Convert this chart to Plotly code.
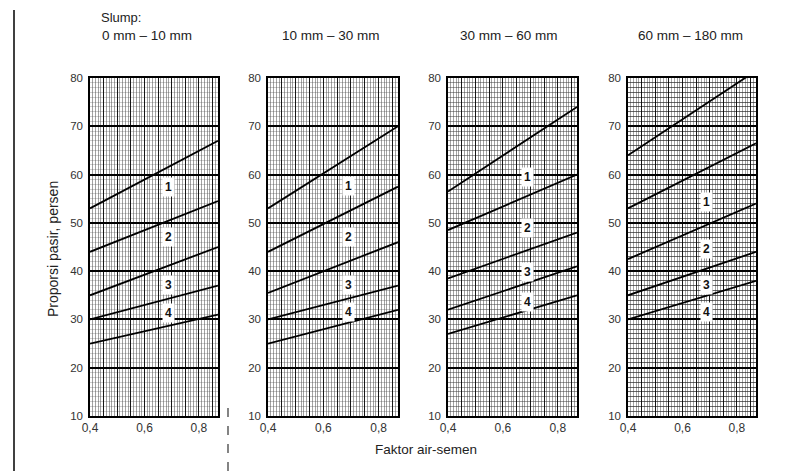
import plotly.graph_objects as go

# ---- data ----
slump_labels = ["0 mm – 10 mm", "10 mm – 30 mm", "30 mm – 60 mm", "60 mm – 180 mm"]
wc_ends = [0.4, 0.87]                      # faktor air-semen at line ends
line_start = [[53, 44, 35, 30, 25],
              [53, 44, 35.5, 30, 25],
              [56.5, 48.5, 38.5, 32, 27],
              [64, 53, 42.5, 35, 30]]
line_end = [[67, 54.5, 45, 37, 31],
            [70, 57.5, 46, 37, 32],
            [74, 60, 48, 41, 35],
            [81.5, 66.5, 54, 44, 38]]
zone_names = ["1", "2", "3", "4"]
zone_x = 0.69
zone_y = [[57.4, 47, 37.1, 31.3],
          [57.6, 47, 37.1, 31.5],
          [59.5, 48.9, 39.8, 33.6],
          [54.3, 44.6, 37.1, 31.5]]
x_tick_vals = [0.40, 0.45, 0.50, 0.55, 0.60, 0.65, 0.70, 0.75, 0.80, 0.85]
x_tick_text = ["0,4", "", "", "", "0,6", "", "", "", "0,8", ""]
y_tick_vals = [10, 20, 30, 40, 50, 60, 70, 80]

# page body has an 8px margin; positions below are in viewport pixels
OFF = 8
W, H = 794 - OFF, 471 - OFF


def px_x(v):
    return (v - OFF) / W


def px_y(v):
    return 1 - (v - OFF) / H


left_px = [90, 268, 448, 628]
right_px = [218, 398, 577, 756]
top_px, bot_px = 78, 416
title_px = [100, 280, 458, 636]
hminor_col = ["rgba(80,80,80,0.28)", "rgba(80,80,80,0.33)",
              "rgba(60,60,60,0.50)", "rgba(40,40,40,0.70)"]

FONT = "Liberation Sans, Arial, sans-serif"
TXT = "#222"
fig = go.Figure()
layout = dict(width=W, height=H, margin=dict(l=0, r=0, t=0, b=0, autoexpand=False),
              paper_bgcolor="white", plot_bgcolor="white", showlegend=False)
annotations = []

for p in range(4):
    sfx = "" if p == 0 else str(p + 1)
    xa, ya = "x" + sfx, "y" + sfx
    for s, e in zip(line_start[p], line_end[p]):
        fig.add_trace(go.Scatter(x=wc_ends, y=[s, e], mode="lines",
                                 line=dict(color="black", width=1.8),
                                 xaxis=xa, yaxis=ya, hoverinfo="skip"))
    for name, zy in zip(zone_names, zone_y[p]):
        annotations.append(dict(x=zone_x, y=zy, xref=xa, yref=ya, text="<b>%s</b>" % name,
                                showarrow=False, bgcolor="white", borderpad=2,
                                font=dict(family=FONT, size=12, color="#111")))
    layout["xaxis" + sfx] = dict(
        domain=[px_x(left_px[p]), px_x(right_px[p])], anchor=ya, range=wc_ends,
        automargin=False,
        tickmode="array", tickvals=x_tick_vals, ticktext=x_tick_text,
        showgrid=True, gridcolor="rgba(0,0,0,0.85)", gridwidth=1,
        minor=dict(dtick=0.01, tick0=0.4, showgrid=True,
                   gridcolor="rgba(50,50,50,0.45)", gridwidth=1),
        showline=True, mirror=True, linecolor="black", linewidth=1.5,
        ticks="", zeroline=False, fixedrange=True,
        tickfont=dict(family=FONT, size=12, color="#333"))
    layout["yaxis" + sfx] = dict(
        domain=[px_y(bot_px), px_y(top_px)], anchor=xa, range=[10, 80],
        automargin=False,
        tickmode="array", tickvals=y_tick_vals,
        showgrid=True, gridcolor="black", gridwidth=1.5,
        minor=dict(dtick=1, tick0=10, showgrid=True,
                   gridcolor=hminor_col[p], gridwidth=1),
        showline=True, mirror=True, linecolor="black", linewidth=1.5,
        ticks="", zeroline=False, fixedrange=True, ticklabelstandoff=3,
        tickfont=dict(family=FONT, size=11.5, color="#333"))
    annotations.append(dict(x=px_x(title_px[p]), y=px_y(35), xref="paper", yref="paper",
                            xanchor="left", yanchor="middle", text=slump_labels[p],
                            showarrow=False, font=dict(family=FONT, size=13.5, color=TXT)))

annotations.append(dict(x=px_x(100), y=px_y(9), xref="paper", yref="paper",
                        xanchor="left", yanchor="top", text="Slump:", borderpad=0,
                        showarrow=False, font=dict(family=FONT, size=13, color=TXT)))
annotations.append(dict(x=px_x(43), y=px_y(249), xref="paper", yref="paper",
                        textangle=-90, text="Proporsi pasir, persen", showarrow=False,
                        font=dict(family=FONT, size=14, color=TXT)))
annotations.append(dict(x=px_x(426), y=px_y(459), xref="paper", yref="paper",
                        text="Faktor air-semen", showarrow=False,
                        font=dict(family=FONT, size=13.5, color=TXT)))
layout["annotations"] = annotations
layout["shapes"] = [
    dict(type="line", xref="paper", yref="paper", x0=px_x(14), x1=px_x(14),
         y0=0, y1=px_y(10), line=dict(color="black", width=1.5)),
    dict(type="line", xref="paper", yref="paper", x0=px_x(228), x1=px_x(228),
         y0=0, y1=px_y(405), line=dict(color="#333", width=1.2, dash="dash")),
]
fig.update_layout(**layout)
fig.write_html("out.html")
